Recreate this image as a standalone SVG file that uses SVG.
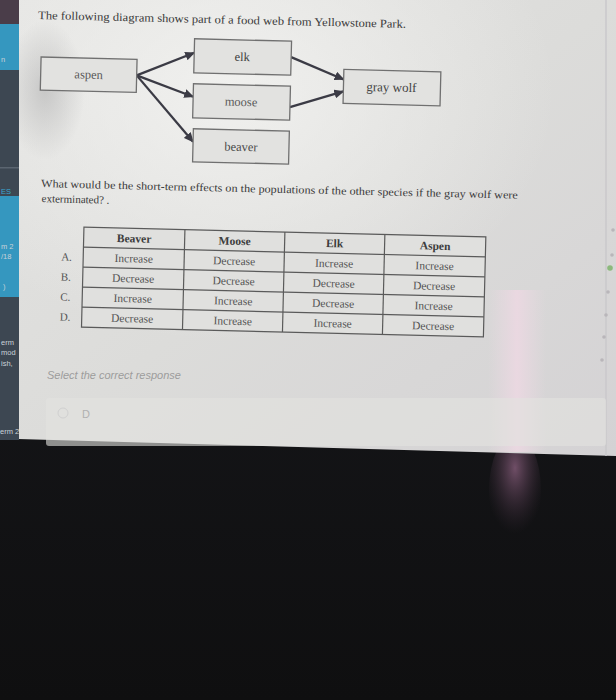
<svg xmlns="http://www.w3.org/2000/svg" width="616" height="700" viewBox="0 0 616 700">
<defs>
<linearGradient id="pageg" x1="0" y1="0" x2="1" y2="1">
<stop offset="0" stop-color="#e4e4e2"/>
<stop offset="0.5" stop-color="#dcdcda"/>
<stop offset="1" stop-color="#d4d2d4"/>
</linearGradient>
<radialGradient id="hl" cx="0.35" cy="0.2" r="0.55">
<stop offset="0" stop-color="#f2f2f0" stop-opacity="0.9"/>
<stop offset="1" stop-color="#f2f2f0" stop-opacity="0"/>
</radialGradient>
<radialGradient id="shadow" cx="0.5" cy="0.5" r="0.5">
<stop offset="0" stop-color="#b9b9b9" stop-opacity="0.7"/>
<stop offset="1" stop-color="#b9b9b9" stop-opacity="0"/>
</radialGradient>
<linearGradient id="glare" x1="0" y1="0" x2="1" y2="0">
<stop offset="0" stop-color="#ead9e2" stop-opacity="0"/>
<stop offset="0.5" stop-color="#ecd8e2" stop-opacity="0.9"/>
<stop offset="1" stop-color="#ead9e2" stop-opacity="0"/>
</linearGradient>
<radialGradient id="blob" cx="0.5" cy="0.3" r="0.6">
<stop offset="0" stop-color="#7a5570" stop-opacity="0.9"/>
<stop offset="1" stop-color="#3a2a38" stop-opacity="0"/>
</radialGradient>
<linearGradient id="blk" x1="0" y1="0" x2="0" y2="1">
<stop offset="0" stop-color="#1a1b20"/>
<stop offset="1" stop-color="#0f0f10"/>
</linearGradient>
<marker id="ah" markerUnits="userSpaceOnUse" markerWidth="10" markerHeight="9" refX="9" refY="4.5" orient="auto">
<path d="M0,0 L10,4.5 L0,9 z" fill="#3b3b45"/>
</marker>
<style>
.box { fill: #e2e2e0; stroke: #707070; stroke-width: 1.3; }
.lbl { font-size: 12.5px; fill: #4a4a4a; text-anchor: middle; }
.edge { stroke: #3b3b45; stroke-width: 2.3; fill: none; marker-end: url(#ah); }
.q { font-size: 11px; fill: #3a3a3a; }
.grid { stroke: #5a5a5a; stroke-width: 1.2; fill: none; }
.cell { font-size: 11.5px; fill: #545454; text-anchor: middle; }
.hdr { font-weight: bold; fill: #3c3c3c; }
.opt { font-size: 11px; fill: #555; }
.side { font-size: 7.5px; fill: #c9d2d8; }
.dot { fill: #b9b6ba; }
</style>
</defs>

<!-- black lower area -->
<rect x="0" y="0" width="616" height="700" fill="url(#blk)"/>
<ellipse cx="515" cy="490" rx="26" ry="55" fill="url(#blob)"/>

<!-- page -->
<polygon points="18,0 616,0 616,456 18,439" fill="url(#pageg)"/>
<polygon points="18,0 616,0 616,456 18,439" fill="url(#hl)"/>
<ellipse cx="45" cy="90" rx="40" ry="70" fill="url(#shadow)"/>
<rect x="488" y="290" width="58" height="162" fill="url(#glare)"/>
<line x1="606" y1="0" x2="606" y2="456" stroke="#cac8cb" stroke-width="1.5"/>

<!-- sidebar -->
<g id="sidebar" font-family="'Liberation Sans', sans-serif">
<rect x="0" y="0" width="19" height="440" fill="#3d4752"/>
<rect x="0" y="0" width="19" height="24" fill="#4a3d49"/>
<rect x="0" y="24" width="19" height="46" fill="#3597bf"/>
<rect x="0" y="167" width="19" height="1.5" fill="#5b6570"/>
<rect x="0" y="196" width="19" height="101" fill="#3597bf"/>
<text class="side" x="1" y="62">n</text>
<text class="side" x="1" y="194" style="fill:#3aa6d0">ES</text>
<text class="side" x="1" y="249">m 2</text>
<text class="side" x="1" y="259">/18</text>
<text class="side" x="3" y="289">)</text>
<text class="side" x="1" y="345">erm</text>
<text class="side" x="1" y="355">mod</text>
<text class="side" x="1" y="366">ish,</text>
<text class="side" x="0" y="434">erm 2</text>
</g>

<!-- right edge dots -->
<g id="rail">
<circle class="dot" cx="613" cy="230" r="1.8"/>
<circle class="dot" cx="612" cy="255" r="1.8"/>
<circle cx="610" cy="268" r="2.8" fill="#8cb97c"/>
<circle class="dot" cx="608" cy="292" r="1.8"/>
<circle class="dot" cx="606" cy="315" r="1.8"/>
<circle class="dot" cx="604" cy="337" r="1.8"/>
<circle class="dot" cx="602" cy="360" r="1.8"/>
</g>

<g id="content" transform="rotate(1.4 40 20)" font-family="'Liberation Serif', 'Times New Roman', serif">
<text class="q" x="38" y="19" textLength="368" lengthAdjust="spacingAndGlyphs" style="font-size:11.5px">The following diagram shows part of a food web from Yellowstone Park.</text>

<g id="connectors">
<line class="edge" x1="138" y1="73" x2="195" y2="49"/>
<line class="edge" x1="138" y1="73" x2="195" y2="93"/>
<line class="edge" x1="138" y1="73" x2="196" y2="138"/>
<line class="edge" x1="292" y1="51" x2="345" y2="72"/>
<line class="edge" x1="292" y1="101" x2="345" y2="84"/>
</g>

<g id="aspen">
<rect class="box" x="42" y="57" width="96" height="33"/>
<text class="lbl" x="90" y="77.5" font-family="'Liberation Serif', serif" style="fill:#5a5a5a">aspen</text>
</g>
<g id="elk">
<rect class="box" x="195" y="35" width="97" height="34"/>
<text class="lbl" x="243" y="56" font-family="'Liberation Serif', serif" style="fill:#3e3e3e">elk</text>
</g>
<g id="moose">
<rect class="box" x="195" y="80" width="97" height="34"/>
<text class="lbl" x="243" y="101" font-family="'Liberation Serif', serif" style="fill:#5a5a5a">moose</text>
</g>
<g id="beaver">
<rect class="box" x="196" y="125" width="96" height="33"/>
<text class="lbl" x="244" y="146" font-family="'Liberation Serif', serif">beaver</text>
</g>
<g id="graywolf">
<rect class="box" x="345" y="62" width="97" height="34"/>
<text class="lbl" x="393" y="83" font-family="'Liberation Serif', serif" style="fill:#444;font-size:13px">gray wolf</text>
</g>

<text class="q" x="45" y="187" textLength="477" lengthAdjust="spacingAndGlyphs">What would be the short-term effects on the populations of the other species if the gray wolf were</text>
<text class="q" x="46" y="202">exterminated? .</text>

<g id="table">
<rect class="grid" x="89" y="226" width="402" height="100" style="fill:#e0e0de"/>
<line class="grid" x1="89" y1="246" x2="491" y2="246"/>
<line class="grid" x1="89" y1="266" x2="491" y2="266"/>
<line class="grid" x1="89" y1="286" x2="491" y2="286"/>
<line class="grid" x1="89" y1="306" x2="491" y2="306"/>
<line class="grid" x1="190" y1="226" x2="190" y2="326"/>
<line class="grid" x1="290" y1="226" x2="290" y2="326"/>
<line class="grid" x1="390" y1="226" x2="390" y2="326"/>
<text class="cell hdr" x="139.5" y="240">Beaver</text>
<text class="cell hdr" x="240" y="240">Moose</text>
<text class="cell hdr" x="340" y="240">Elk</text>
<text class="cell hdr" x="440.5" y="240">Aspen</text>
<text class="cell" x="139.5" y="260">Increase</text>
<text class="cell" x="240" y="260">Decrease</text>
<text class="cell" x="340" y="260">Increase</text>
<text class="cell" x="440.5" y="260">Increase</text>
<text class="cell" x="139.5" y="280">Decrease</text>
<text class="cell" x="240" y="280">Decrease</text>
<text class="cell" x="340" y="280">Decrease</text>
<text class="cell" x="440.5" y="280">Decrease</text>
<text class="cell" x="139.5" y="300">Increase</text>
<text class="cell" x="240" y="300">Increase</text>
<text class="cell" x="340" y="300">Decrease</text>
<text class="cell" x="440.5" y="300">Increase</text>
<text class="cell" x="139.5" y="320">Decrease</text>
<text class="cell" x="240" y="320">Increase</text>
<text class="cell" x="340" y="320">Increase</text>
<text class="cell" x="440.5" y="320">Decrease</text>
<text class="opt" x="67" y="260">A.</text>
<text class="opt" x="67" y="280">B.</text>
<text class="opt" x="67" y="300">C.</text>
<text class="opt" x="67" y="320">D.</text>
</g>
</g>

<text x="47" y="379" font-family="'Liberation Sans', sans-serif" font-size="11" font-style="italic" fill="#9c9c9c">Select the correct response</text>

<g id="option">
<rect x="46" y="398" width="560" height="48" rx="3" fill="#e2e2e0" opacity="0.6"/>
<circle cx="63" cy="413" r="5" fill="none" stroke="#d0d0d0" stroke-width="1"/>
<text x="82" y="418" font-family="'Liberation Sans', sans-serif" font-size="11" fill="#b0b0b0">D</text>
</g>
</svg>
